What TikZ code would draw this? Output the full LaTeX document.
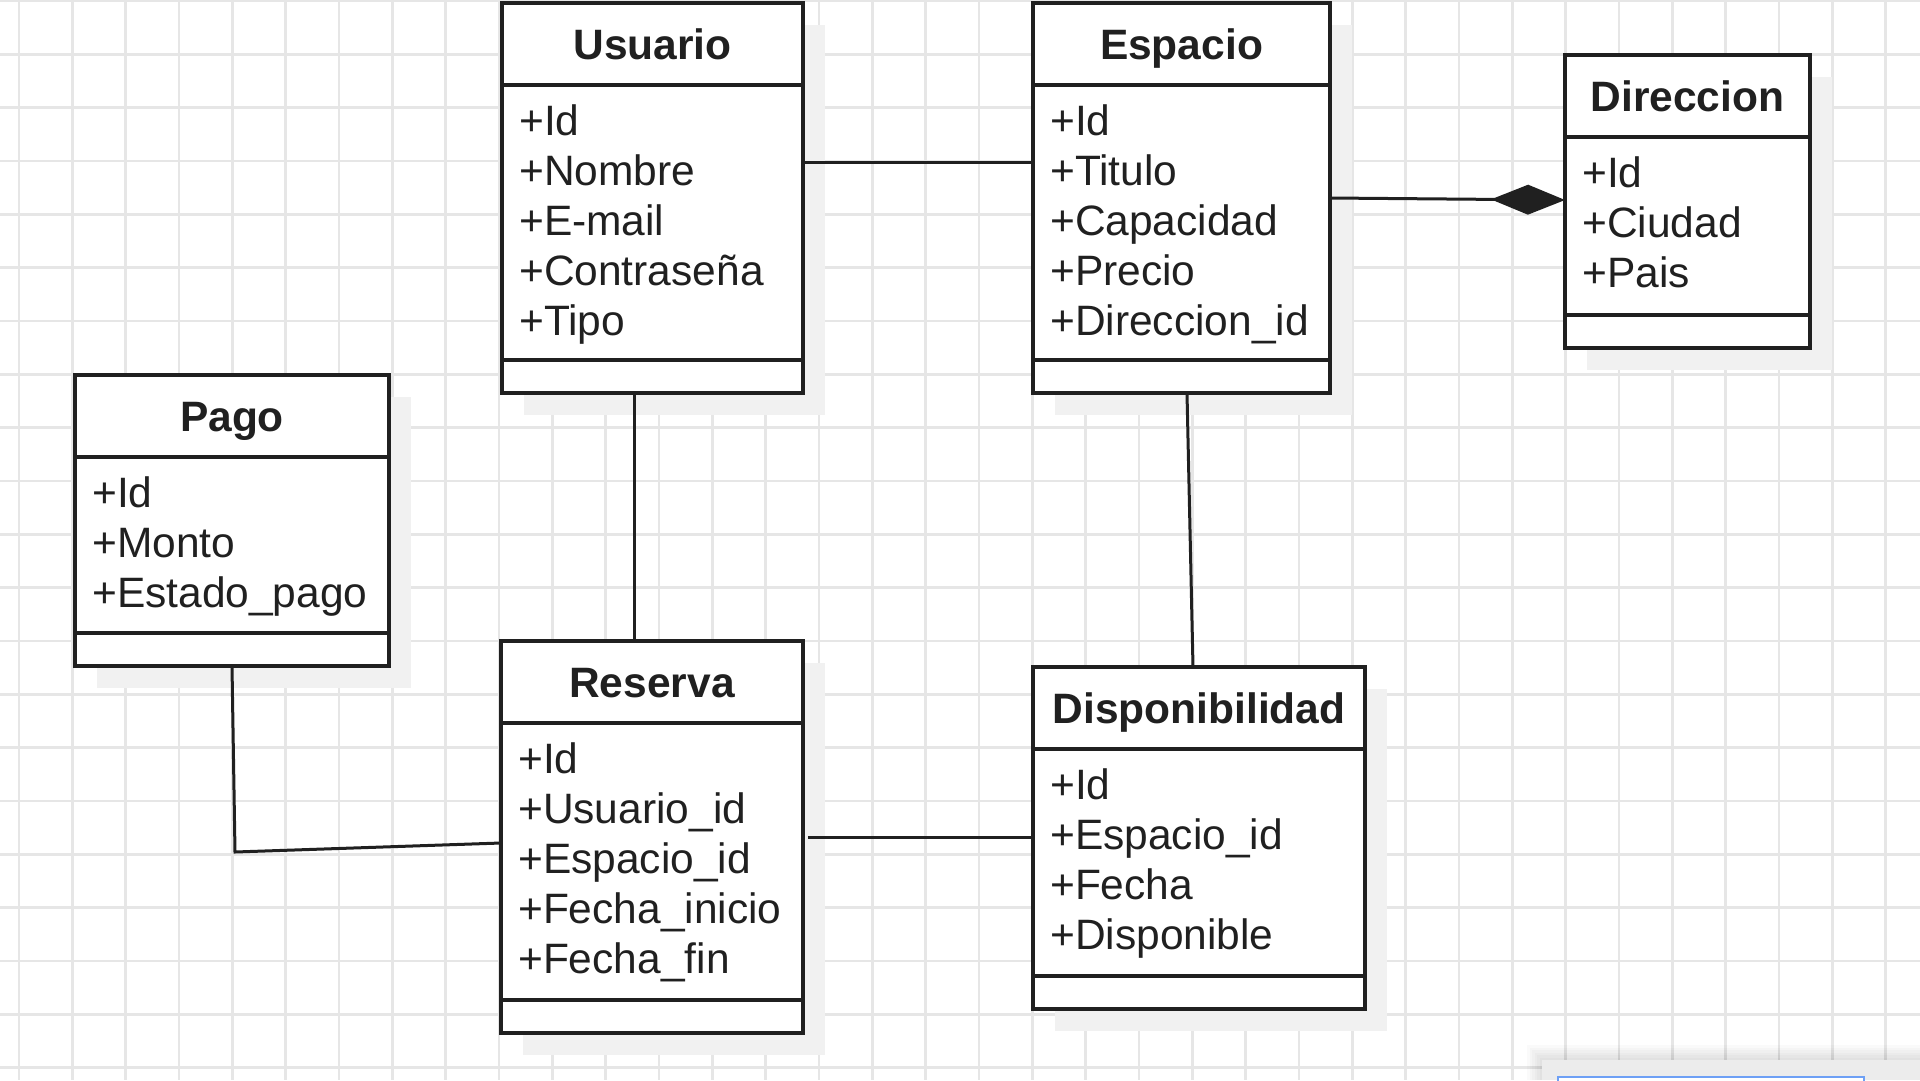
\documentclass[tikz,border=0pt]{standalone}
\usepackage{fontspec}
\setmainfont{Liberation Sans}
\usetikzlibrary{arrows.meta,calc}
\definecolor{ink}{RGB}{32,32,32}
\definecolor{gridc}{RGB}{230,230,230}
\definecolor{shadowc}{RGB}{241,241,241}
\definecolor{panelc}{RGB}{236,236,236}
\definecolor{selblue}{RGB}{110,160,245}
\tikzset{
  gridline/.style={draw=gridc, line width=2.5pt},
  classbox/.style={draw=ink, fill=white, line width=3.5pt, rectangle, inner sep=0pt, outer sep=0pt},
  divline/.style={draw=ink, line width=3.5pt},
  titletext/.style={inner sep=0pt, text=ink, font=\fontsize{42.5}{50}\selectfont\bfseries},
  attrtext/.style={inner sep=0pt, text=ink, font=\fontsize{42.5}{50}\selectfont},
  conn/.style={draw=ink, line width=3pt},
}
\newcommand\umlclassbox[7]{%
  \fill[shadowc] ({#2+22},{#3+22}) rectangle ++(#4,#5);
  \node[classbox, minimum width=#4pt, minimum height=#5pt, anchor=north west] (#1) at (#2,#3) {};
  \draw[divline] ($(#1.north west)+(0,82)$) -- ($(#1.north east)+(0,82)$);
  \draw[divline] ($(#1.south west)+(0,-33)$) -- ($(#1.south east)+(0,-33)$);
  \node[titletext, anchor=base] (#1-title) at ($(#1.north)+(0,56)$) {#6};
  \foreach \t [count=\i] in {#7}
    \node[attrtext, anchor=base west] (#1-a\i) at ($(#1.north west)+(17,{132+50*(\i-1)})$) {\t};
}
\begin{document}
\begin{tikzpicture}[x=1pt,y=-1pt]
\useasboundingbox (0,0) rectangle (1920,1080);
\fill[white] (0,0) rectangle (1920,1080);
% grid
\foreach \k in {0,...,35} \draw[gridline] ({19+53.333*\k},0) -- ({19+53.333*\k},1080);
\foreach \k in {0,...,20} \draw[gridline] (0,{1+53.333*\k}) -- (1920,{1+53.333*\k});

% classes
\umlclassbox{usuario}{502}{3}{301}{390}{Usuario}{+Id,+Nombre,+E-mail,+Contraseña,+Tipo}
\umlclassbox{espacio}{1033}{3}{297}{390}{Espacio}{+Id,+Titulo,+Capacidad,+Precio,+Direccion\_id}
\umlclassbox{direccion}{1565}{55}{245}{293}{Direccion}{+Id,+Ciudad,+Pais}
\umlclassbox{pago}{75}{375}{314}{291}{Pago}{+Id,+Monto,+Estado\_pago}
\umlclassbox{reserva}{501}{641}{302}{392}{Reserva}{+Id,+Usuario\_id,+Espacio\_id,+Fecha\_inicio,+Fecha\_fin}
\umlclassbox{disponibilidad}{1033}{667}{332}{342}{Disponibilidad}{+Id,+Espacio\_id,+Fecha,+Disponible}

% connectors
\draw[conn] ($(usuario.north east)+(0,159)$) -- ($(espacio.north west)+(0,159)$);
\draw[conn, -{Diamond[length=74pt 0,width=30pt 0]}] ($(espacio.north east)+(0,195)$) -- ($(direccion.north west)+(0,145)$);
\draw[conn] ($(usuario.south west)+(132,0)$) -- ($(reserva.north west)+(133,0)$);
\draw[conn] ($(espacio.south west)+(154,0)$) -- ($(disponibilidad.north west)+(160,0)$);
\coordinate (pagobend) at (235,852);
\draw[conn] ($(pago.south west)+(157,0)$) -- (pagobend) -- ($(reserva.north west)+(0,202)$);
\draw[conn] ($(reserva.north east)+(5,196)$) -- ($(disponibilidad.north west)+(0,170)$);

% bottom-right panel
\foreach \i in {1,...,6}
  \fill[black, opacity=0.018] ({1542-2.5*\i},{1060-2.5*\i}) rectangle (1920,1080);
\fill[panelc] (1542,1060) rectangle (1920,1080);
\draw[selblue, fill=white, line width=2.5pt] (1558,1077) rectangle (1864,1095);
\end{tikzpicture}
\end{document}
